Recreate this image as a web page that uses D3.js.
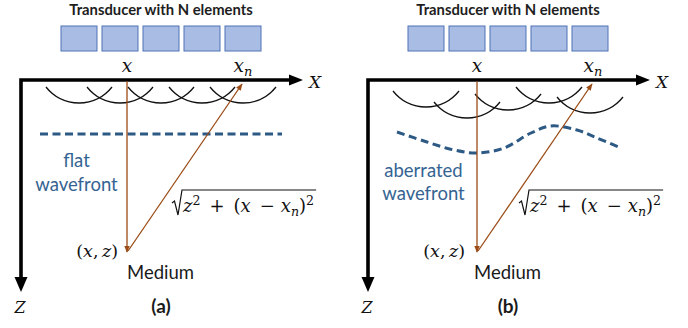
<!DOCTYPE html>
<html>
<head>
<meta charset="utf-8">
<script src="https://cdn.jsdelivr.net/npm/d3@7"></script>
<style>
  body { margin: 0; background: #fff; }
  svg { display: block; }
  .sans { font-family: Lato, "Open Sans", sans-serif; }
  .math { font-family: "DejaVu Serif", serif; }
</style>
</head>
<body>
<svg id="chart" width="688" height="328"></svg>
<script>
"use strict";
(function () {

    // ---- diagram data (in panel units) ----
    const PANEL_LABELS = ["(a)", "(b)"];
    const PANEL_SHIFT = [0, 347];
    const TITLE = "Transducer with N elements";
    const ELEMENTS = [0, 1, 2, 3, 4];
    // depth of the bottom of each element's wavelet
    const ARC_BOTTOM_A = [103, 103, 103, 103, 103];
    const ARC_BOTTOM_B = [107, 118, 110, 103, 113];
    // lateral position of the focus point x and of element x_n
    const FOCUS_X = [127, 130];
    const ELEMENT_XN = [242, 245];
    const FOCUS_Z = 252;
    const FLAT_WAVE = [[40, 134], [282, 134]];
    const ABERRATED_WAVE = [[50, 132], [80, 142], [107, 150], [130, 153], [157, 148],
        [184, 133], [204, 126], [230, 130], [250, 138], [274, 148]];
    const WAVE_LABELS = [["flat", "wavefront"], ["aberrated", "wavefront"]];
    const WAVE_LABEL_Y = [[167, 191], [177, 200]];

    const BROWN = "#9a4b16";
    const NAVY = "#2d5985";
    const ARC_R = 42;
    const ARC_HALF = Math.asin(33 / ARC_R);

    const svg = d3.select("#chart");
    const y = d3.scaleLinear().domain([0, 328]).range([0, 328]);

    const defs = svg.append("defs");
    defs.append("marker")
        .attr("id", "brownHead")
        .attr("viewBox", "0 0 10 10")
        .attr("refX", 9)
        .attr("refY", 5)
        .attr("markerUnits", "userSpaceOnUse")
        .attr("markerWidth", 7)
        .attr("markerHeight", 7)
        .attr("orient", "auto")
        .append("path")
        .attr("d", "M0,1 L10,5 L0,9 Z")
        .attr("fill", BROWN);

    PANEL_LABELS.forEach((label, i) => drawPanel(i));

    function drawPanel(i) {
        const x = d3.scaleLinear().domain([0, 344]).range([PANEL_SHIFT[i], PANEL_SHIFT[i] + 344]);
        const g = svg.append("g");
        const band = d3.scaleBand().domain(ELEMENTS).range([x(61), x(261)]).paddingInner(0.122);

        g.append("text")
            .attr("class", "sans")
            .attr("x", x(161))
            .attr("y", y(15))
            .attr("text-anchor", "middle")
            .attr("font-weight", 700)
            .attr("font-size", 14.8)
            .attr("fill", "#1e1e1e")
            .text(TITLE);

        g.selectAll("rect.el")
            .data(ELEMENTS)
            .enter()
            .append("rect")
            .attr("class", "el")
            .attr("x", d => band(d))
            .attr("y", y(26))
            .attr("width", band.bandwidth())
            .attr("height", y(51) - y(26))
            .attr("fill", "#a9bde4")
            .attr("stroke", "#4f73b6")
            .attr("stroke-width", 1);

        // wavelets under each element
        const bottoms = i === 0 ? ARC_BOTTOM_A : ARC_BOTTOM_B;
        g.selectAll("path.arc")
            .data(ELEMENTS)
            .enter()
            .append("path")
            .attr("class", "arc")
            .attr("d", d => {
                const cx = band(d) + band.bandwidth() / 2;
                const cy = y(bottoms[d]) - ARC_R;
                const p = d3.path();
                p.arc(cx, cy, ARC_R, Math.PI / 2 - ARC_HALF, Math.PI / 2 + ARC_HALF);
                return p.toString();
            })
            .attr("fill", "none")
            .attr("stroke", "#111")
            .attr("stroke-width", 1.3);

        // axes
        g.append("path")
            .attr("d", `M${x(21)},${y(279)} L${x(21)},${y(80)} L${x(291)},${y(80)}`)
            .attr("fill", "none")
            .attr("stroke", "#000")
            .attr("stroke-width", 3.6);
        g.append("path")
            .attr("d", `M${x(303)},${y(80)} L${x(289)},${y(74.5)} L${x(289)},${y(85.5)} Z`)
            .attr("fill", "#000");
        g.append("path")
            .attr("d", `M${x(21)},${y(292)} L${x(14.5)},${y(277)} L${x(27.5)},${y(277)} Z`)
            .attr("fill", "#000");
        mathText(g, x(309), y(87.5), [{ t: "X", it: true }], "start", 17);
        mathText(g, x(20), y(313), [{ t: "Z", it: true }], "middle", 16);

        // element labels
        mathText(g, x(FOCUS_X[i]), y(72), [{ t: "x", it: true }], "middle", 18.5);
        mathText(g, x(ELEMENT_XN[i] + 1), y(72), [{ t: "x", it: true }, { t: "n", it: true, sub: true }], "middle", 18.5);

        // wavefront
        const wave = i === 0 ? FLAT_WAVE : ABERRATED_WAVE;
        const line = d3.line()
            .x(d => x(d[0]))
            .y(d => y(d[1]))
            .curve(d3.curveCatmullRom);
        g.append("path")
            .attr("d", line(wave))
            .attr("fill", "none")
            .attr("stroke", NAVY)
            .attr("stroke-width", 3)
            .attr("stroke-dasharray", "8,4.5");
        WAVE_LABELS[i].forEach((txt, k) => {
            g.append("text")
                .attr("class", "sans")
                .attr("x", x(76.5))
                .attr("y", y(WAVE_LABEL_Y[i][k]))
                .attr("text-anchor", "middle")
                .attr("font-size", 18.5)
                .attr("fill", "#356492")
                .text(txt);
        });

        // geometry arrows
        g.append("line")
            .attr("x1", x(FOCUS_X[i]))
            .attr("y1", y(81))
            .attr("x2", x(FOCUS_X[i]))
            .attr("y2", y(FOCUS_Z))
            .attr("stroke", BROWN)
            .attr("stroke-width", 1.3)
            .attr("marker-end", "url(#brownHead)");
        g.append("line")
            .attr("x1", x(FOCUS_X[i] + 1))
            .attr("y1", y(FOCUS_Z - 1))
            .attr("x2", x(ELEMENT_XN[i]))
            .attr("y2", y(84))
            .attr("stroke", BROWN)
            .attr("stroke-width", 1.3)
            .attr("marker-end", "url(#brownHead)");

        // distance formula with radical
        const f = mathText(g, x(183), y(212), [
            { t: "z", it: true }, { t: "2", sup: true },
            { t: "\u2002+\u2002(" }, { t: "x", it: true },
            { t: "\u2002\u2212\u2004" }, { t: "x", it: true }, { t: "n", it: true, sub: true },
            { t: ")" }, { t: "2", sup: true }
        ], "start", 18);
        const fw = f.node().getComputedTextLength();
        g.append("path")
            .attr("d", `M${x(172)},${y(203)} L${x(174.5)},${y(201)} L${x(178)},${y(215)} L${x(182)},${y(190)} H${x(183) + fw + 2}`)
            .attr("fill", "none")
            .attr("stroke", "#111")
            .attr("stroke-width", 1.2);

        mathText(g, x(118), y(257), [
            { t: "(" }, { t: "x", it: true }, { t: ",\u2009" }, { t: "z", it: true }, { t: ")" }
        ], "end", 17.5);

        g.append("text")
            .attr("class", "sans")
            .attr("x", x(127))
            .attr("y", y(279))
            .attr("font-size", 18.5)
            .attr("fill", "#1a1a1a")
            .text("Medium");

        g.append("text")
            .attr("class", "sans")
            .attr("x", x(161))
            .attr("y", y(313))
            .attr("text-anchor", "middle")
            .attr("font-weight", 700)
            .attr("font-size", 19)
            .attr("fill", "#1a1a1a")
            .text(PANEL_LABELS[i]);
    }

    // text built from italic / upright / raised / lowered pieces
    function mathText(g, x0, y0, parts, anchor, size) {
        const t = g.append("text")
            .attr("class", "math")
            .attr("x", x0)
            .attr("y", y0)
            .attr("text-anchor", anchor)
            .attr("font-size", size)
            .attr("fill", "#111")
            .style("white-space", "pre");
        let shift = 0;
        parts.forEach(p => {
            const target = p.sup ? -size * 0.38 : p.sub ? size * 0.22 : 0;
            t.append("tspan")
                .attr("dy", target - shift)
                .attr("font-style", p.it ? "italic" : "normal")
                .attr("font-size", p.sup || p.sub ? size * 0.7 : size)
                .text(p.t);
            shift = target;
        });
        return t;
    }
})();
</script>
</body>
</html>
